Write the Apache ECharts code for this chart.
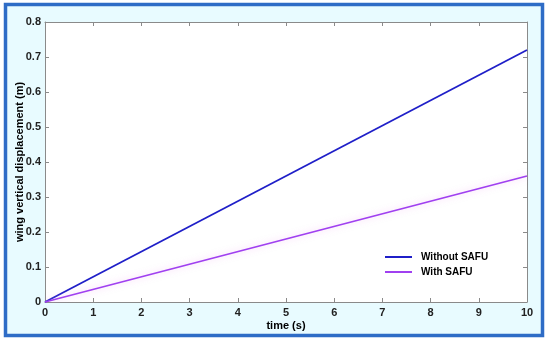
<!DOCTYPE html>
<html><head><meta charset="utf-8">
<script src="https://cdn.jsdelivr.net/npm/echarts@6/dist/echarts.min.js"></script>
<style>html,body{margin:0;padding:0;background:#fff}#c{width:550px;height:341px}</style>
</head><body><div id="c"></div>
<script>
const timeS = [0, 10];
const withoutSAFU = [0, 0.72];
const withSAFU = [0, 0.36];
const seriesNames = ['Without SAFU', 'With SAFU'];
const xLabel = 'time (s)';
const yLabel = 'wing vertical displacement (m)';

const chart = echarts.init(document.getElementById('c'));
const font = 'Liberation Sans, Arial, sans-serif';
const axisCommon = {
  axisLine: {show: true, onZero: false, lineStyle: {color: '#8a8a8a', width: 1}},
  axisTick: {show: true, inside: true, length: 4, lineStyle: {color: '#8a8a8a'}},
  splitLine: {show: false}
};
chart.setOption({
  animation: false,
  backgroundColor: 'transparent',
  graphic: [{
    type: 'rect', z: -10, silent: true,
    shape: {x: 5.5, y: 4.5, width: 537, height: 331},
    style: {fill: '#e8fbff', stroke: '#2e6cc6', lineWidth: 3.5}
  }],
  grid: {left: 45, right: 23, top: 22, bottom: 39, backgroundColor: '#fff', show: true, borderWidth: 0,
    outerBoundsMode: 'none', containLabel: false},
  legend: {
    data: seriesNames, orient: 'vertical', left: 380, top: 247,
    itemWidth: 27, itemHeight: 2, itemGap: 5, icon: 'rect',
    textStyle: {fontFamily: font, fontWeight: 'bold', fontSize: 10, color: '#000', padding: [0, 0, 0, 4]}
  },
  xAxis: [
    Object.assign({type: 'value', min: 0, max: 10, interval: 1, position: 'bottom',
      name: xLabel, nameLocation: 'middle', nameGap: 18, nameMoveOverlap: false,
      nameTextStyle: {fontFamily: font, fontWeight: 'bold', fontSize: 11, color: '#000'},
      axisLabel: {fontFamily: font, fontWeight: 'bold', fontSize: 11, color: '#222', margin: 5}}, axisCommon),
    Object.assign({type: 'value', min: 0, max: 10, interval: 1, position: 'top',
      axisLabel: {show: false}}, axisCommon)
  ],
  yAxis: [
    Object.assign({type: 'value', min: 0, max: 0.8, interval: 0.1, position: 'left',
      name: yLabel, nameLocation: 'middle', nameGap: 20, nameMoveOverlap: false,
      nameTextStyle: {fontFamily: font, fontWeight: 'bold', fontSize: 11, color: '#000'},
      axisLabel: {fontFamily: font, fontWeight: 'bold', fontSize: 11, color: '#222', margin: 4,
        formatter: v => String(Math.round(v * 10) / 10)}}, axisCommon),
    Object.assign({type: 'value', min: 0, max: 0.8, interval: 0.1, position: 'right',
      axisLabel: {show: false}}, axisCommon)
  ],
  series: [
    {name: seriesNames[0], type: 'line', showSymbol: false, symbol: 'none',
      data: timeS.map((t, i) => [t, withoutSAFU[i]]),
      lineStyle: {color: '#1f1fc8', width: 1.8}, itemStyle: {color: '#1f1fc8'}},
    {name: seriesNames[1], type: 'line', showSymbol: false, symbol: 'none',
      data: timeS.map((t, i) => [t, withSAFU[i]]),
      lineStyle: {color: '#a040f0', width: 1.8, shadowColor: 'rgba(240,150,240,0.5)', shadowBlur: 6},
      itemStyle: {color: '#a040f0'}}
  ]
});
</script></body></html>
